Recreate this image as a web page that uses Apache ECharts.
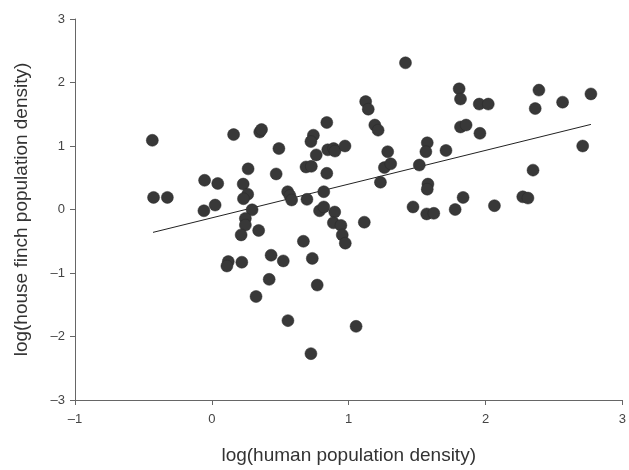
<!DOCTYPE html>
<html>
<head>
<meta charset="utf-8">
<script src="https://cdn.jsdelivr.net/npm/echarts@6/dist/echarts.min.js"></script>
<style>
  html, body { margin: 0; padding: 0; background: #fff; }
  #chart { width: 629px; height: 470px; }
</style>
</head>
<body>
<div id="chart"></div>
<script>
// log(human population density)
var humanDensity = [
  -0.435, -0.426, -0.325, 0.159, 0.35, 0.363, 0.49, 0.265, 0.47, -0.053,
  0.043, 0.229, 0.262, 0.231, 0.024, -0.058, 0.294, 0.554, 0.57, 0.583,
  0.695, 0.818, 0.787, 0.818, 0.898, 0.84, 0.742, 0.724, 0.763, 0.688,
  0.727, 0.84, 0.847, 0.89, 0.9, 0.973, 1.415, 1.124, 1.143, 1.191,
  1.215, 1.285, 1.261, 1.307, 1.232, 1.516, 1.574, 1.564, 1.711, 1.807,
  1.817, 1.954, 2.02, 1.817, 1.858, 1.959, 2.39, 2.363, 2.563, 2.77,
  2.71, 2.347, 1.579, 1.574, 1.836, 2.272, 2.31, 1.47, 1.57, 1.622,
  1.778, 2.065, 1.114, 0.888, 0.943, 0.953, 0.975, 1.054, 0.245, 0.245,
  0.214, 0.342, 0.12, 0.11, 0.219, 0.433, 0.522, 0.419, 0.323, 0.556,
  0.724, 0.669, 0.734, 0.77
];
// log(house finch population density)
var finchDensity = [
  1.09, 0.19, 0.19, 1.18, 1.22, 1.26, 0.96, 0.64, 0.56, 0.46,
  0.41, 0.40, 0.24, 0.17, 0.07, -0.02, -0.005, 0.28, 0.22, 0.15,
  0.16, 0.28, -0.02, 0.04, -0.04, 1.37, 1.17, 1.07, 0.86, 0.67,
  0.68, 0.57, 0.94, 0.96, 0.92, 1.0, 2.31, 1.70, 1.58, 1.33,
  1.25, 0.91, 0.66, 0.72, 0.43, 0.70, 1.05, 0.91, 0.93, 1.90,
  1.74, 1.66, 1.66, 1.30, 1.33, 1.20, 1.88, 1.59, 1.69, 1.82,
  1.0, 0.62, 0.40, 0.32, 0.19, 0.20, 0.18, 0.04, -0.07, -0.06,
  0.0, 0.06, -0.2, -0.21, -0.25, -0.40, -0.53, -1.84, -0.14, -0.245,
  -0.40, -0.33, -0.82, -0.89, -0.83, -0.72, -0.81, -1.10, -1.37, -1.75,
  -2.27, -0.50, -0.77, -1.19
];
// fitted regression line, end points
var trendX = [-0.43, 2.77];
var trendY = [-0.36, 1.34];

var xTicks = [-1, 0, 1, 2, 3];
var yTicks = [-3, -2, -1, 0, 1, 2, 3];

var points = humanDensity.map(function (x, i) { return [x, finchDensity[i]]; });
var trend = trendX.map(function (x, i) { return [x, trendY[i]]; });

// tick labels use a dash for negatives, like the original
function tickText(v) {
  return v < 0 ? "\u2013" + Math.abs(v) : String(v);
}

var chart = echarts.init(document.getElementById("chart"));
var font = "'Liberation Sans', Arial, sans-serif";
var axisCommon = {
  type: "value",
  nameLocation: "middle",
  nameTextStyle: { color: "#333", fontSize: 19, fontFamily: font },
  axisLine: { show: true, onZero: false, lineStyle: { color: "#666", width: 1 } },
  axisTick: { show: true, length: 5, lineStyle: { color: "#666" } },
  axisLabel: { color: "#444", fontSize: 13, fontFamily: font, formatter: tickText },
  splitLine: { show: false }
};

chart.setOption({
  backgroundColor: "#fff",
  animation: false,
  grid: { left: 75, right: 2, top: 19, bottom: 69 },
  xAxis: Object.assign({}, axisCommon, {
    name: "log(human population density)",
    nameGap: 46,
    min: xTicks[0],
    max: xTicks[xTicks.length - 1],
    interval: 1,
    axisLabel: Object.assign({}, axisCommon.axisLabel, { margin: 13 })
  }),
  yAxis: Object.assign({}, axisCommon, {
    name: "log(house finch population density)",
    nameGap: 44,
    min: yTicks[0],
    max: yTicks[yTicks.length - 1],
    interval: 1,
    axisLabel: Object.assign({}, axisCommon.axisLabel, { margin: 10 })
  }),
  series: [
    {
      type: "line",
      data: trend,
      symbol: "none",
      lineStyle: { color: "#222", width: 1 },
      z: 1
    },
    {
      type: "scatter",
      data: points,
      symbolSize: 12,
      itemStyle: { color: "#383838", borderColor: "#2a2a2a", borderWidth: 0.5, opacity: 1 },
      z: 2
    }
  ]
});
</script>
</body>
</html>
